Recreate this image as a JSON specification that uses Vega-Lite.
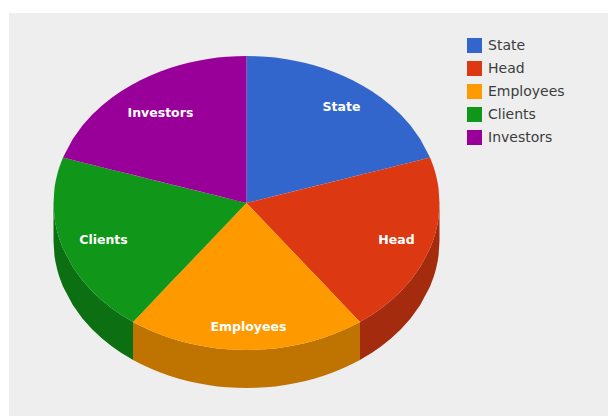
{
  "$schema": "https://vega.github.io/schema/vega-lite/v6.json",
  "width": 599,
  "height": 403,
  "padding": {"left": 9, "top": 13, "right": 0, "bottom": 0},
  "autosize": "none",
  "background": "#ffffff",
  "view": {"stroke": null, "fill": "#eeeeee"},
  "config": {"view": {"stroke": null, "fill": "#eeeeee"}},
  "datasets": {
    "walls": [
      {"slice":"Clients","across":-1,"upper":0,"lower":-0.2585},
      {"slice":"Clients","across":-0.995,"upper":-0.1,"lower":-0.3585},
      {"slice":"Clients","across":-0.99,"upper":-0.141,"lower":-0.3995},
      {"slice":"Clients","across":-0.98,"upper":-0.199,"lower":-0.4575},
      {"slice":"Clients","across":-0.97,"upper":-0.243,"lower":-0.5015},
      {"slice":"Clients","across":-0.951,"upper":-0.309,"lower":-0.5675},
      {"slice":"Clients","across":-0.9,"upper":-0.436,"lower":-0.6945},
      {"slice":"Clients","across":-0.85,"upper":-0.527,"lower":-0.7855},
      {"slice":"Clients","across":-0.8,"upper":-0.6,"lower":-0.8585},
      {"slice":"Clients","across":-0.75,"upper":-0.661,"lower":-0.9195},
      {"slice":"Clients","across":-0.7,"upper":-0.714,"lower":-0.9725},
      {"slice":"Clients","across":-0.65,"upper":-0.76,"lower":-1.0185},
      {"slice":"Clients","across":-0.6,"upper":-0.8,"lower":-1.0585},
      {"slice":"Clients","across":-0.588,"upper":-0.809,"lower":-1.0675},
      {"slice":"Employees","across":-0.588,"upper":-0.809,"lower":-1.0675},
      {"slice":"Employees","across":-0.55,"upper":-0.835,"lower":-1.0935},
      {"slice":"Employees","across":-0.5,"upper":-0.866,"lower":-1.1245},
      {"slice":"Employees","across":-0.45,"upper":-0.893,"lower":-1.1515},
      {"slice":"Employees","across":-0.4,"upper":-0.917,"lower":-1.1755},
      {"slice":"Employees","across":-0.35,"upper":-0.937,"lower":-1.1955},
      {"slice":"Employees","across":-0.3,"upper":-0.954,"lower":-1.2125},
      {"slice":"Employees","across":-0.25,"upper":-0.968,"lower":-1.2265},
      {"slice":"Employees","across":-0.2,"upper":-0.98,"lower":-1.2385},
      {"slice":"Employees","across":-0.15,"upper":-0.989,"lower":-1.2475},
      {"slice":"Employees","across":-0.1,"upper":-0.995,"lower":-1.2535},
      {"slice":"Employees","across":-0.05,"upper":-0.999,"lower":-1.2575},
      {"slice":"Employees","across":0,"upper":-1,"lower":-1.2585},
      {"slice":"Employees","across":0.05,"upper":-0.999,"lower":-1.2575},
      {"slice":"Employees","across":0.1,"upper":-0.995,"lower":-1.2535},
      {"slice":"Employees","across":0.15,"upper":-0.989,"lower":-1.2475},
      {"slice":"Employees","across":0.2,"upper":-0.98,"lower":-1.2385},
      {"slice":"Employees","across":0.25,"upper":-0.968,"lower":-1.2265},
      {"slice":"Employees","across":0.3,"upper":-0.954,"lower":-1.2125},
      {"slice":"Employees","across":0.35,"upper":-0.937,"lower":-1.1955},
      {"slice":"Employees","across":0.4,"upper":-0.917,"lower":-1.1755},
      {"slice":"Employees","across":0.45,"upper":-0.893,"lower":-1.1515},
      {"slice":"Employees","across":0.5,"upper":-0.866,"lower":-1.1245},
      {"slice":"Employees","across":0.55,"upper":-0.835,"lower":-1.0935},
      {"slice":"Employees","across":0.588,"upper":-0.809,"lower":-1.0675},
      {"slice":"Head","across":0.588,"upper":-0.809,"lower":-1.0675},
      {"slice":"Head","across":0.6,"upper":-0.8,"lower":-1.0585},
      {"slice":"Head","across":0.65,"upper":-0.76,"lower":-1.0185},
      {"slice":"Head","across":0.7,"upper":-0.714,"lower":-0.9725},
      {"slice":"Head","across":0.75,"upper":-0.661,"lower":-0.9195},
      {"slice":"Head","across":0.8,"upper":-0.6,"lower":-0.8585},
      {"slice":"Head","across":0.85,"upper":-0.527,"lower":-0.7855},
      {"slice":"Head","across":0.9,"upper":-0.436,"lower":-0.6945},
      {"slice":"Head","across":0.951,"upper":-0.309,"lower":-0.5675},
      {"slice":"Head","across":0.97,"upper":-0.243,"lower":-0.5015},
      {"slice":"Head","across":0.98,"upper":-0.199,"lower":-0.4575},
      {"slice":"Head","across":0.99,"upper":-0.141,"lower":-0.3995},
      {"slice":"Head","across":0.995,"upper":-0.1,"lower":-0.3585},
      {"slice":"Head","across":1,"upper":0,"lower":-0.2585}
    ],
    "faces": [
      {"slice":"State","across":0,"upper":1,"lower":0},
      {"slice":"State","across":0.05,"upper":0.999,"lower":0.016},
      {"slice":"State","across":0.1,"upper":0.995,"lower":0.032},
      {"slice":"State","across":0.15,"upper":0.989,"lower":0.049},
      {"slice":"State","across":0.2,"upper":0.98,"lower":0.065},
      {"slice":"State","across":0.25,"upper":0.968,"lower":0.081},
      {"slice":"State","across":0.3,"upper":0.954,"lower":0.097},
      {"slice":"State","across":0.35,"upper":0.937,"lower":0.114},
      {"slice":"State","across":0.4,"upper":0.917,"lower":0.13},
      {"slice":"State","across":0.45,"upper":0.893,"lower":0.146},
      {"slice":"State","across":0.5,"upper":0.866,"lower":0.162},
      {"slice":"State","across":0.55,"upper":0.835,"lower":0.179},
      {"slice":"State","across":0.6,"upper":0.8,"lower":0.195},
      {"slice":"State","across":0.65,"upper":0.76,"lower":0.211},
      {"slice":"State","across":0.7,"upper":0.714,"lower":0.227},
      {"slice":"State","across":0.75,"upper":0.661,"lower":0.244},
      {"slice":"State","across":0.8,"upper":0.6,"lower":0.26},
      {"slice":"State","across":0.85,"upper":0.527,"lower":0.276},
      {"slice":"State","across":0.9,"upper":0.436,"lower":0.292},
      {"slice":"State","across":0.951,"upper":0.309,"lower":0.309},
      {"slice":"Head","across":0,"upper":0,"lower":0},
      {"slice":"Head","across":0.1,"upper":0.032,"lower":-0.138},
      {"slice":"Head","across":0.2,"upper":0.065,"lower":-0.275},
      {"slice":"Head","across":0.3,"upper":0.097,"lower":-0.413},
      {"slice":"Head","across":0.4,"upper":0.13,"lower":-0.55},
      {"slice":"Head","across":0.5,"upper":0.162,"lower":-0.688},
      {"slice":"Head","across":0.588,"upper":0.191,"lower":-0.809},
      {"slice":"Head","across":0.6,"upper":0.195,"lower":-0.8},
      {"slice":"Head","across":0.65,"upper":0.211,"lower":-0.76},
      {"slice":"Head","across":0.7,"upper":0.227,"lower":-0.714},
      {"slice":"Head","across":0.75,"upper":0.244,"lower":-0.661},
      {"slice":"Head","across":0.8,"upper":0.26,"lower":-0.6},
      {"slice":"Head","across":0.85,"upper":0.276,"lower":-0.527},
      {"slice":"Head","across":0.9,"upper":0.292,"lower":-0.436},
      {"slice":"Head","across":0.951,"upper":0.309,"lower":-0.309},
      {"slice":"Head","across":0.97,"upper":0.243,"lower":-0.243},
      {"slice":"Head","across":0.98,"upper":0.199,"lower":-0.199},
      {"slice":"Head","across":0.99,"upper":0.141,"lower":-0.141},
      {"slice":"Head","across":0.995,"upper":0.1,"lower":-0.1},
      {"slice":"Head","across":1,"upper":0,"lower":0},
      {"slice":"Employees","across":-0.588,"upper":-0.809,"lower":-0.809},
      {"slice":"Employees","across":-0.55,"upper":-0.757,"lower":-0.835},
      {"slice":"Employees","across":-0.5,"upper":-0.688,"lower":-0.866},
      {"slice":"Employees","across":-0.45,"upper":-0.619,"lower":-0.893},
      {"slice":"Employees","across":-0.4,"upper":-0.55,"lower":-0.917},
      {"slice":"Employees","across":-0.35,"upper":-0.482,"lower":-0.937},
      {"slice":"Employees","across":-0.3,"upper":-0.413,"lower":-0.954},
      {"slice":"Employees","across":-0.25,"upper":-0.344,"lower":-0.968},
      {"slice":"Employees","across":-0.2,"upper":-0.275,"lower":-0.98},
      {"slice":"Employees","across":-0.15,"upper":-0.206,"lower":-0.989},
      {"slice":"Employees","across":-0.1,"upper":-0.138,"lower":-0.995},
      {"slice":"Employees","across":-0.05,"upper":-0.069,"lower":-0.999},
      {"slice":"Employees","across":0,"upper":0,"lower":-1},
      {"slice":"Employees","across":0.05,"upper":-0.069,"lower":-0.999},
      {"slice":"Employees","across":0.1,"upper":-0.138,"lower":-0.995},
      {"slice":"Employees","across":0.15,"upper":-0.206,"lower":-0.989},
      {"slice":"Employees","across":0.2,"upper":-0.275,"lower":-0.98},
      {"slice":"Employees","across":0.25,"upper":-0.344,"lower":-0.968},
      {"slice":"Employees","across":0.3,"upper":-0.413,"lower":-0.954},
      {"slice":"Employees","across":0.35,"upper":-0.482,"lower":-0.937},
      {"slice":"Employees","across":0.4,"upper":-0.55,"lower":-0.917},
      {"slice":"Employees","across":0.45,"upper":-0.619,"lower":-0.893},
      {"slice":"Employees","across":0.5,"upper":-0.688,"lower":-0.866},
      {"slice":"Employees","across":0.55,"upper":-0.757,"lower":-0.835},
      {"slice":"Employees","across":0.588,"upper":-0.809,"lower":-0.809},
      {"slice":"Clients","across":-1,"upper":0,"lower":0},
      {"slice":"Clients","across":-0.995,"upper":0.1,"lower":-0.1},
      {"slice":"Clients","across":-0.99,"upper":0.141,"lower":-0.141},
      {"slice":"Clients","across":-0.98,"upper":0.199,"lower":-0.199},
      {"slice":"Clients","across":-0.97,"upper":0.243,"lower":-0.243},
      {"slice":"Clients","across":-0.951,"upper":0.309,"lower":-0.309},
      {"slice":"Clients","across":-0.9,"upper":0.292,"lower":-0.436},
      {"slice":"Clients","across":-0.85,"upper":0.276,"lower":-0.527},
      {"slice":"Clients","across":-0.8,"upper":0.26,"lower":-0.6},
      {"slice":"Clients","across":-0.75,"upper":0.244,"lower":-0.661},
      {"slice":"Clients","across":-0.7,"upper":0.227,"lower":-0.714},
      {"slice":"Clients","across":-0.65,"upper":0.211,"lower":-0.76},
      {"slice":"Clients","across":-0.6,"upper":0.195,"lower":-0.8},
      {"slice":"Clients","across":-0.588,"upper":0.191,"lower":-0.809},
      {"slice":"Clients","across":-0.5,"upper":0.162,"lower":-0.688},
      {"slice":"Clients","across":-0.4,"upper":0.13,"lower":-0.55},
      {"slice":"Clients","across":-0.3,"upper":0.097,"lower":-0.413},
      {"slice":"Clients","across":-0.2,"upper":0.065,"lower":-0.275},
      {"slice":"Clients","across":-0.1,"upper":0.032,"lower":-0.138},
      {"slice":"Clients","across":0,"upper":0,"lower":0},
      {"slice":"Investors","across":-0.951,"upper":0.309,"lower":0.309},
      {"slice":"Investors","across":-0.9,"upper":0.436,"lower":0.292},
      {"slice":"Investors","across":-0.85,"upper":0.527,"lower":0.276},
      {"slice":"Investors","across":-0.8,"upper":0.6,"lower":0.26},
      {"slice":"Investors","across":-0.75,"upper":0.661,"lower":0.244},
      {"slice":"Investors","across":-0.7,"upper":0.714,"lower":0.227},
      {"slice":"Investors","across":-0.65,"upper":0.76,"lower":0.211},
      {"slice":"Investors","across":-0.6,"upper":0.8,"lower":0.195},
      {"slice":"Investors","across":-0.55,"upper":0.835,"lower":0.179},
      {"slice":"Investors","across":-0.5,"upper":0.866,"lower":0.162},
      {"slice":"Investors","across":-0.45,"upper":0.893,"lower":0.146},
      {"slice":"Investors","across":-0.4,"upper":0.917,"lower":0.13},
      {"slice":"Investors","across":-0.35,"upper":0.937,"lower":0.114},
      {"slice":"Investors","across":-0.3,"upper":0.954,"lower":0.097},
      {"slice":"Investors","across":-0.25,"upper":0.968,"lower":0.081},
      {"slice":"Investors","across":-0.2,"upper":0.98,"lower":0.065},
      {"slice":"Investors","across":-0.15,"upper":0.989,"lower":0.049},
      {"slice":"Investors","across":-0.1,"upper":0.995,"lower":0.032},
      {"slice":"Investors","across":-0.05,"upper":0.999,"lower":0.016},
      {"slice":"Investors","across":0,"upper":1,"lower":0}
    ],
    "captions": [
      {"slice":"State","across":0.492,"upper":0.653},
      {"slice":"Head","across":0.777,"upper":-0.252},
      {"slice":"Employees","across":0.01,"upper":-0.844},
      {"slice":"Clients","across":-0.741,"upper":-0.252},
      {"slice":"Investors","across":-0.446,"upper":0.612}
    ]
  },
  "encoding": {
    "x": {"field": "across", "type": "quantitative", "axis": null, "scale": {"domain": [-1.2306, 1.8731], "nice": false, "zero": false}},
    "y": {"field": "upper", "type": "quantitative", "axis": null, "scale": {"domain": [-1.449, 1.2925], "nice": false, "zero": false}}
  },
  "layer": [
    {
      "data": {"name": "walls"},
      "mark": {"type": "area", "interpolate": "linear"},
      "encoding": {
        "y2": {"field": "lower"},
        "fill": {"field": "slice", "type": "nominal", "legend": null, "scale": {"domain": ["Head", "Employees", "Clients"], "range": ["#a52b0e", "#bf7300", "#0c7012"]}}
      }
    },
    {
      "data": {"name": "faces"},
      "mark": {"type": "area", "interpolate": "linear"},
      "encoding": {
        "y2": {"field": "lower"},
        "fill": {
          "field": "slice",
          "type": "nominal",
          "scale": {"domain": ["State", "Head", "Employees", "Clients", "Investors"], "range": ["#3366cc", "#dc3912", "#ff9900", "#109618", "#990099"]},
          "legend": {
            "title": null,
            "orient": "none",
            "legendX": 458,
            "legendY": 25,
            "symbolType": "square",
            "symbolSize": 225,
            "symbolStrokeWidth": 0,
            "labelFont": "DejaVu Sans",
            "labelFontSize": 14,
            "labelColor": "#3c3c3c",
            "labelOffset": 6,
            "rowPadding": 8
          }
        }
      }
    },
    {
      "data": {"name": "captions"},
      "mark": {"type": "text", "font": "DejaVu Sans", "fontWeight": "bold", "fontSize": 12.5, "color": "#ffffff", "align": "center", "baseline": "middle"},
      "encoding": {"text": {"field": "slice", "type": "nominal"}}
    }
  ],
  "resolve": {"scale": {"fill": "independent"}}
}
